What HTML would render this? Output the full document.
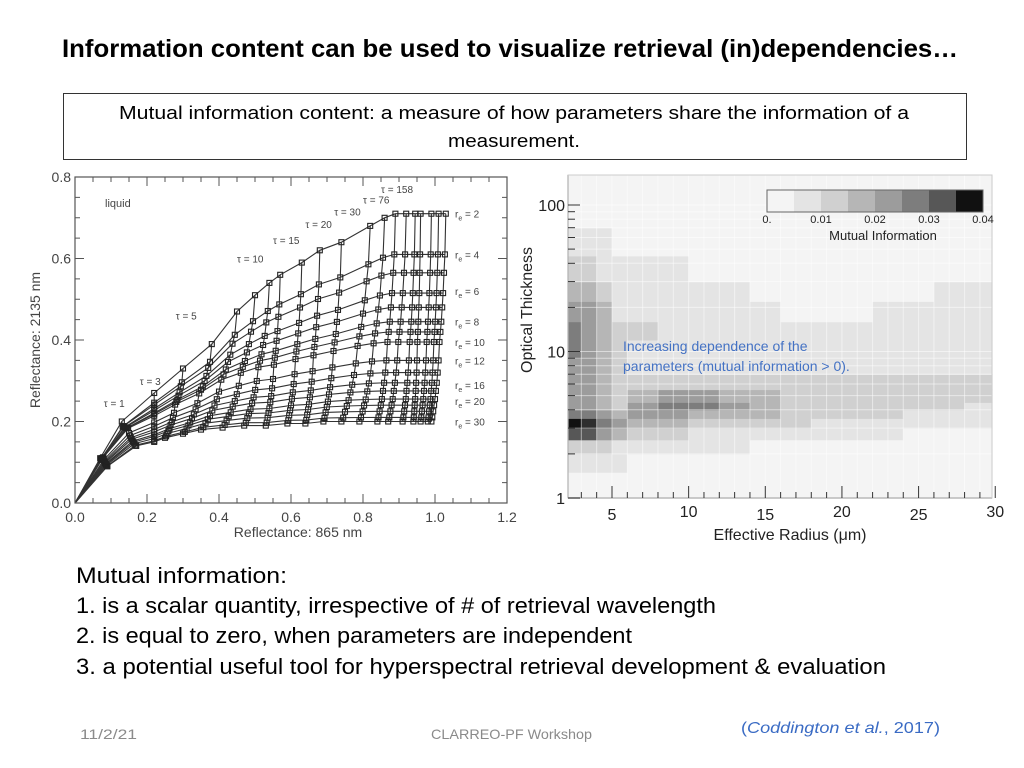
<!DOCTYPE html>
<html><head><meta charset="utf-8"><style>
html,body{margin:0;padding:0;background:#fff;}
svg{display:block;font-family:"Liberation Sans",sans-serif;}
</style></head><body>
<svg id="slide" width="1024" height="768" viewBox="0 0 1024 768" xmlns="http://www.w3.org/2000/svg">
<text x="62" y="57" font-size="25" font-weight="bold" textLength="896" lengthAdjust="spacingAndGlyphs">Information content can be used to visualize retrieval (in)dependencies…</text>
<rect x="63.5" y="93.5" width="903" height="66" fill="#fff" stroke="#333" stroke-width="1"/>
<text x="119" y="119" font-size="18" textLength="790" lengthAdjust="spacingAndGlyphs">Mutual information content: a measure of how parameters share the information of a</text>
<text x="448" y="147" font-size="18" textLength="132" lengthAdjust="spacingAndGlyphs">measurement.</text>

<g id="left"></g>
<g id="right"></g>

<text x="76" y="583" font-size="22" textLength="211" lengthAdjust="spacingAndGlyphs">Mutual information:</text>
<text x="76" y="613" font-size="22" textLength="640" lengthAdjust="spacingAndGlyphs">1. is a scalar quantity, irrespective of # of retrieval wavelength</text>
<text x="76" y="643" font-size="22" textLength="556" lengthAdjust="spacingAndGlyphs">2. is equal to zero, when parameters are independent</text>
<text x="76" y="674" font-size="22" textLength="810" lengthAdjust="spacingAndGlyphs">3. a potential useful tool for hyperspectral retrieval development &amp; evaluation</text>
<text x="80" y="739" font-size="14" fill="#8a8a8a" textLength="57" lengthAdjust="spacingAndGlyphs">11/2/21</text>
<text x="431" y="739" font-size="14" fill="#8a8a8a" textLength="161" lengthAdjust="spacingAndGlyphs">CLARREO-PF Workshop</text>
<text x="741" y="733" font-size="16" fill="#3a6bc4" textLength="199" lengthAdjust="spacingAndGlyphs">(<tspan font-style="italic">Coddington et al.</tspan>, 2017)</text>
</svg>
<script>
// ---------- LEFT CHART DATA ----------
const tauVals = [0.5,1,2,3,4,5,6,7,8,10,12,15,20,25,30,40,50,60,76,100,158];
const topX = [0.07,0.13,0.22,0.30,0.38,0.45,0.50,0.54,0.57,0.63,0.68,0.74,0.82,0.86,0.89,0.92,0.945,0.96,0.99,1.01,1.03];
const topY = [0.11,0.20,0.27,0.33,0.39,0.47,0.51,0.54,0.56,0.59,0.62,0.64,0.68,0.70,0.71,0.71,0.71,0.71,0.71,0.71,0.71];
const botX = [0.09,0.17,0.22,0.25,0.30,0.35,0.41,0.47,0.53,0.59,0.64,0.69,0.74,0.79,0.84,0.87,0.91,0.94,0.96,0.98,0.99];
const botY = [0.09,0.14,0.15,0.16,0.17,0.18,0.185,0.19,0.19,0.195,0.195,0.2,0.2,0.2,0.2,0.2,0.2,0.2,0.2,0.2,0.2];
const reVals = [2,4,5,6,7,8,9,10,12,14,16,18,20,22,24,27,30];
const reAsym = [0.71,0.61,0.565,0.515,0.48,0.445,0.42,0.395,0.35,0.32,0.295,0.275,0.255,0.24,0.225,0.21,0.20];
const xTicks = ["0.0","0.2","0.4","0.6","0.8","1.0","1.2"];
const yTicks = ["0.0","0.2","0.4","0.6","0.8"];
const tauLabels = [["τ = 1",0.08,0.245],["τ = 3",0.18,0.3],["τ = 5",0.28,0.46],["τ = 10",0.45,0.6],["τ = 15",0.55,0.645],["τ = 20",0.64,0.685],["τ = 30",0.72,0.715],["τ = 76",0.8,0.745],["τ = 158",0.85,0.77]];
const reLabels = [["2",0.71],["4",0.61],["6",0.52],["8",0.445],["10",0.395],["12",0.35],["16",0.29],["20",0.25],["30",0.2]];

// ---------- RIGHT CHART DATA ----------
const rEdges = [2,3,4,5,6,8,10,12,14,16,18,20,22,24,26,28,30];
const tauEdges = [1,1.5,2,2.5,3,3.5,4,4.5,5.5,7,9,12,16,22,30,45,70,160];
const miLevels = [
[0,0,0,0,0,0,0,0,0,0,0,0,0,0,0,0],
[1,1,1,1,0,0,0,0,0,0,0,0,0,0,0,0],
[2,2,2,1,1,1,1,1,0,0,0,0,0,0,0,0],
[6,6,4,3,2,2,1,1,1,1,1,1,1,0,0,0],
[8,7,5,4,3,3,2,2,2,2,1,1,1,1,1,1],
[5,5,4,3,4,4,3,3,3,2,2,2,2,1,1,1],
[4,4,3,2,4,5,5,4,3,2,2,2,2,2,2,1],
[4,4,3,2,3,4,4,3,3,2,2,2,2,2,2,2],
[4,4,3,2,2,2,2,2,2,2,2,2,2,2,2,2],
[4,4,3,2,1,1,1,1,1,1,1,1,1,1,1,1],
[5,4,3,2,1,1,1,1,1,1,1,1,1,1,1,1],
[5,4,3,2,2,1,1,1,1,1,1,1,1,1,1,1],
[4,4,3,1,1,1,1,1,1,0,0,0,1,1,1,1],
[3,3,2,1,1,1,1,1,0,0,0,0,0,0,1,1],
[2,2,1,1,1,1,0,0,0,0,0,0,0,0,0,0],
[1,1,1,0,0,0,0,0,0,0,0,0,0,0,0,0],
[0,0,0,0,0,0,0,0,0,0,0,0,0,0,0,0]];
const cbTicks = ["0.","0.01","0.02","0.03","0.04"];
const rTicks = [5,10,15,20,25,30];
const tauTicks = [1,10,100];
const levelColors = ["#f4f4f4","#e4e4e4","#d0d0d0","#b6b6b6","#9c9c9c","#7d7d7d","#575757","#2e2e2e","#111111"];

const NS="http://www.w3.org/2000/svg";
function mk(parent,tag,attrs,txt){const e=document.createElementNS(NS,tag);for(const k in attrs)e.setAttribute(k,attrs[k]);if(txt!==undefined)e.textContent=txt;parent.appendChild(e);return e;}

// ----- left -----
(function(){
const g=document.getElementById('left');
const X=v=>75+v*360, Y=v=>503-v*407.5;
const n=reVals.length;
function pt(i,j){const t=j/(n-1);const frac=(1-t)*topY[i]/0.71+t*botY[i]/0.2;
  return [X((1-t)*topX[i]+t*botX[i]), Y(Math.min(frac,1)*reAsym[j])];}
for(let j=0;j<n;j++){let d="M"+X(0)+","+Y(0);for(let i=0;i<tauVals.length;i++){const p=pt(i,j);d+=" L"+p[0].toFixed(1)+","+p[1].toFixed(1);}
  const e=mk(g,'path',{d:d,fill:'none',stroke:'#333','stroke-width':1.1});
  }
for(let i=0;i<tauVals.length;i++){let d="";for(let j=0;j<n;j++){const p=pt(i,j);d+=(j?" L":"M")+p[0].toFixed(1)+","+p[1].toFixed(1);}
  const e=mk(g,'path',{d:d,fill:'none',stroke:'#333','stroke-width':1.1});
  
  for(let j=0;j<n;j++){const p=pt(i,j);const m=mk(g,'rect',{x:(p[0]-2.5).toFixed(1),y:(p[1]-2.5).toFixed(1),width:5,height:5,fill:'none',stroke:'#222','stroke-width':1.1});
    }}
const fr=mk(g,'rect',{x:75,y:177,width:432,height:326,fill:'none',stroke:'#555','stroke-width':1.2});

for(let k=0;k<=24;k++){const x=X(k*0.05),L=k%4==0?9:5;mk(g,'line',{x1:x,x2:x,y1:503,y2:503-L,stroke:'#555'});mk(g,'line',{x1:x,x2:x,y1:177,y2:177+L,stroke:'#555'});}
for(let k=0;k<=16;k++){const y=Y(k*0.05),L=k%4==0?9:5;mk(g,'line',{x1:75,x2:75+L,y1:y,y2:y,stroke:'#555'});mk(g,'line',{x1:507,x2:507-L,y1:y,y2:y,stroke:'#555'});}
xTicks.forEach((t,k)=>{const e=mk(g,'text',{x:X(k*0.2),y:522,'font-size':14,'text-anchor':'middle',fill:'#444'},t);});
yTicks.forEach((t,k)=>{const e=mk(g,'text',{x:71,y:Y(k*0.2)+5,'font-size':14,'text-anchor':'end',fill:'#444'},t);});
let e=mk(g,'text',{x:298,y:537,'font-size':14,'text-anchor':'middle',fill:'#444'},'Reflectance: 865 nm');
e=mk(g,'text',{x:0,y:0,'font-size':14,'text-anchor':'middle',fill:'#444',transform:'translate(40,340) rotate(-90)'},'Reflectance: 2135 nm');
e=mk(g,'text',{x:105,y:207,'font-size':11,fill:'#444'},'liquid');
tauLabels.forEach(l=>{const t=mk(g,'text',{x:X(l[1]),y:Y(l[2])+4,'font-size':10,fill:'#444'},l[0]);});
reLabels.forEach(l=>{const t=mk(g,'text',{x:455,y:Y(l[1])+4,'font-size':10,fill:'#444'});t.innerHTML='r<tspan font-size="7" dy="3">e</tspan><tspan dy="-3"> = '+l[0]+'</tspan>';});
})();

// ----- right -----
(function(){
const g=document.getElementById('right');
const X=v=>566+(v-2)*15.33, Y=v=>498-Math.log10(v)*146.5;
const bg=mk(g,'rect',{x:568,y:175,width:424,height:323,fill:'#f4f4f4'});
for(let r=0;r<miLevels.length;r++)for(let c=0;c<miLevels[r].length;c++){
  const x0=Math.max(X(rEdges[c]),568),x1=Math.min(X(rEdges[c+1]),992),y0=Math.max(Y(tauEdges[r+1]),175),y1=Y(tauEdges[r]);
  const cell=mk(g,'rect',{x:x0.toFixed(1),y:y0.toFixed(1),width:(x1-x0+0.6).toFixed(1),height:(y1-y0+0.6).toFixed(1),fill:levelColors[miLevels[r][c]]});
  }
for(let v=3;v<30;v++){mk(g,'line',{x1:X(v),x2:X(v),y1:175,y2:498,stroke:'#fff','stroke-opacity':0.5,'stroke-width':1});}
[1,2,3,4,5,6,7,8,9,10,20,30,40,50,60,70,80,90,100].forEach(v=>{mk(g,'line',{x1:568,x2:992,y1:Y(v),y2:Y(v),stroke:'#fff','stroke-opacity':0.5});});
mk(g,'line',{x1:568,x2:568,y1:175,y2:498,stroke:'#333','stroke-width':1.2});
mk(g,'line',{x1:568,x2:992,y1:498,y2:498,stroke:'#333','stroke-width':1.2});
mk(g,'rect',{x:568,y:175,width:424,height:323,fill:'none',stroke:'#ccc'});
for(let v=3;v<=30;v++){const L=v%5==0?12:6;mk(g,'line',{x1:X(v),x2:X(v),y1:498,y2:498-L,stroke:'#333'});}
[2,3,4,5,6,7,8,9,20,30,40,50,60,70,80,90].forEach(v=>mk(g,'line',{x1:568,x2:575,y1:Y(v),y2:Y(v),stroke:'#333'}));
tauTicks.forEach(v=>{mk(g,'line',{x1:568,x2:580,y1:Y(v),y2:Y(v),stroke:'#333'});const t=mk(g,'text',{x:565,y:Y(v)+6,'font-size':16,'text-anchor':'end',fill:'#222'},String(v));});
rTicks.forEach(v=>{const t=mk(g,'text',{x:X(v),y:v%10==0?517:520,'font-size':16,'text-anchor':'middle',fill:'#222'},String(v));});
let e=mk(g,'text',{x:790,y:540,'font-size':16,'text-anchor':'middle',fill:'#222'},'Effective Radius (μm)');
e=mk(g,'text',{x:0,y:0,'font-size':16,'text-anchor':'middle',fill:'#222',transform:'translate(532,310) rotate(-90)'},'Optical Thickness');
const cbX=v=>767+v/0.04*216;
for(let k=0;k<8;k++){const c=mk(g,'rect',{x:cbX(k*0.005),y:190,width:27.5,height:22,fill:levelColors[k+1===8?8:k]});}
mk(g,'rect',{x:767,y:190,width:216,height:22,fill:'none',stroke:'#666'});
cbTicks.forEach((t,k)=>{const tx=mk(g,'text',{x:cbX(k*0.01),y:223,'font-size':11,'text-anchor':'middle',fill:'#222'},t);});
e=mk(g,'text',{x:883,y:240,'font-size':13,'text-anchor':'middle',fill:'#222'},'Mutual Information');
e=mk(g,'text',{x:623,y:351,'font-size':14,fill:'#4472c4'},'Increasing dependence of the');
e=mk(g,'text',{x:623,y:371,'font-size':14,fill:'#4472c4'},'parameters (mutual information > 0).');
})();
</script>
</body></html>
